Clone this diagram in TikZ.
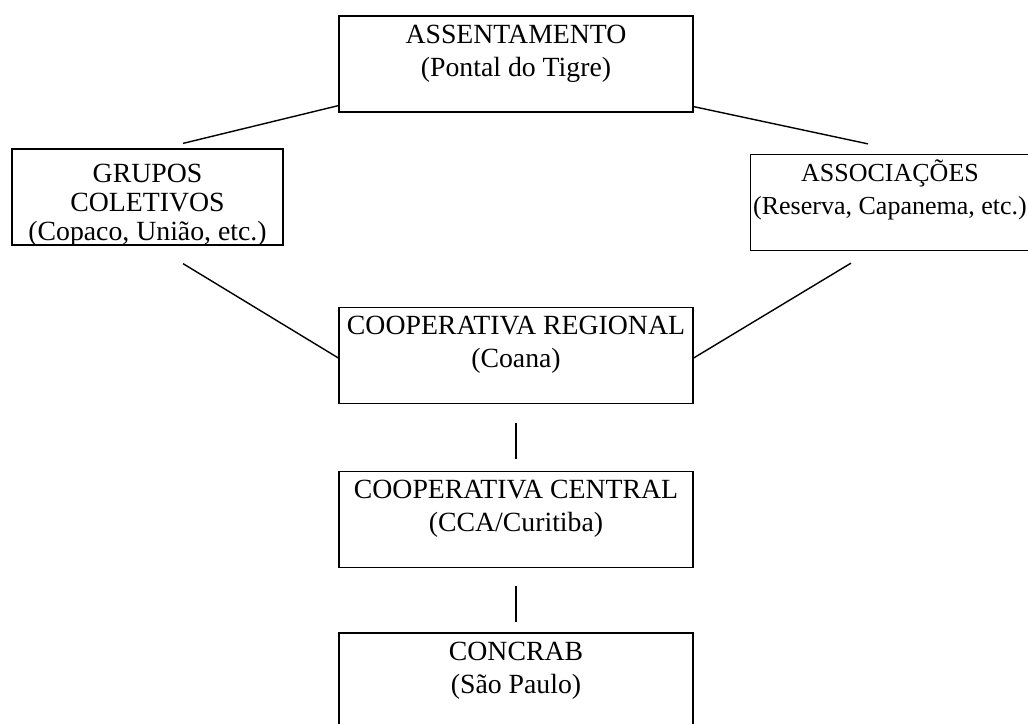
\documentclass[tikz,border=0pt]{standalone}
\usepackage{fontspec}
\setmainfont{Liberation Serif}
\usetikzlibrary{calc}

\tikzset{
    box/.style={draw, line width=0.7pt, inner sep=0pt, align=center,
        minimum width=7.08cm, text height=1.2cm, text depth=0.72cm,
        font=\fontsize{15.8}{18.7}\selectfont},
    link/.style={line width=0.8pt}
}

\begin{document}
\begin{tikzpicture}
    \useasboundingbox (0, 0) rectangle (20.56, -14.46);
    \clip (0, 0) rectangle (20.56, -14.46);

    % boxes
    \node[box] (assent) at (10.32, -1.28) {ASSENTAMENTO\\(Pontal do Tigre)};
    \node[box, minimum width=5.42cm, text height=1.82cm, text depth=0.1cm,
        font=\fontsize{15.8}{16.5}\selectfont] (grupos) at (2.95, -3.94)
        {GRUPOS\\COLETIVOS\\(Copaco, União, etc.)};
    \node[box, minimum width=5.58cm, font=\fontsize{14.8}{18.7}\selectfont]
        (assoc) at (17.8, -4.05) {ASSOCIAÇÕES\\(Reserva, Capanema, etc.)};
    \node[box] (regional) at (10.32, -7.11) {COOPERATIVA REGIONAL\\(Coana)};
    \node[box] (central) at (10.32, -10.39) {COOPERATIVA CENTRAL\\(CCA/Curitiba)};
    \node[box] (concrab) at (10.32, -13.62) {CONCRAB\\(São Paulo)};

    % links
    \draw[link] ($(grupos.north)+(0.71, 0.1)$) -- ($(assent.south west)+(0, 0.14)$);
    \draw[link] ($(assent.south east)+(0, 0.12)$) -- ($(assoc.north)+(-0.44, 0.2)$);
    \draw[link] ($(grupos.south)+(0.71, -0.36)$) -- ($(regional.west)+(0, -0.05)$);
    \draw[link] ($(assoc.south)+(-0.78, -0.24)$) -- ($(regional.east)+(0, -0.05)$);
    \draw[link, shorten <=0.38cm, shorten >=0.24cm] (regional) -- (central);
    \draw[link, shorten <=0.36cm, shorten >=0.2cm] (central) -- (concrab);
\end{tikzpicture}
\end{document}
